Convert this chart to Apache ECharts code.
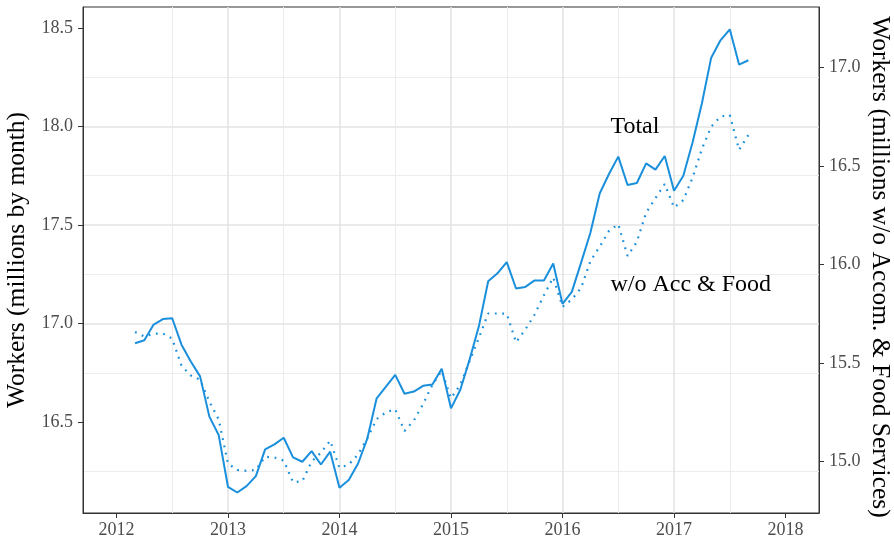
<!DOCTYPE html>
<html lang="en">
<head>
<meta charset="UTF-8">
<title>Workers</title>
<script src="https://cdn.jsdelivr.net/npm/echarts@6/dist/echarts.min.js"></script>
<style>
html, body { margin: 0; padding: 0; background: #fff; }
#chart { width: 894px; height: 545px; }
</style>
</head>
<body>
<div id="chart"></div>
<script>
// monthly series, first value is March 2012
var startYear = 2012, startMonth = 3;

// total workers, millions (left axis)
var total = [
    16.90, 16.915, 16.995, 17.023, 17.027, 16.893, 16.808, 16.732, 16.528, 16.435,
    16.172, 16.143, 16.175, 16.226, 16.362, 16.387, 16.421, 16.321, 16.299, 16.353, 16.285, 16.35,
    16.167, 16.206, 16.29, 16.418, 16.621, 16.68, 16.74, 16.644, 16.655, 16.684, 16.691, 16.771,
    16.570, 16.664, 16.817, 16.986, 17.215, 17.255, 17.312, 17.178, 17.186, 17.219, 17.219, 17.305,
    17.10, 17.161, 17.309, 17.461, 17.66, 17.759, 17.847, 17.703, 17.713, 17.813, 17.781, 17.85,
    17.674, 17.75, 17.92, 18.118, 18.349, 18.437, 18.493, 18.314, 18.336
];

// workers without accommodation & food services, millions (right axis)
var withoutAccFood = [
    15.657, 15.635, 15.649, 15.65, 15.624, 15.486, 15.437, 15.415, 15.304, 15.214,
    14.99, 14.957, 14.953, 14.957, 15.024, 15.021, 15.005, 14.895, 14.90, 15.00, 15.045, 15.106,
    14.968, 14.985, 15.036, 15.118, 15.216, 15.25, 15.265, 15.155, 15.208, 15.292, 15.39, 15.46,
    15.321, 15.389, 15.51, 15.627, 15.751, 15.751, 15.75, 15.605, 15.67, 15.746, 15.844, 15.934,
    15.785, 15.822, 15.881, 16.017, 16.09, 16.17, 16.204, 16.043, 16.115, 16.263, 16.336, 16.408,
    16.289, 16.326, 16.441, 16.586, 16.699, 16.75, 16.758, 16.581, 16.657
];

var yearTicks = [2012, 2013, 2014, 2015, 2016, 2017, 2018];
var leftTicks = [16.5, 17.0, 17.5, 18.0, 18.5];
var rightTicks = [15.0, 15.5, 16.0, 16.5, 17.0];

var blue = '#1a8fdc';
var font = 'Liberation Serif';

function toXY(values){
    return values.map(function(v, i){
        return [startYear + (startMonth - 1 + i) / 12, v];
    });
}

var tickLabel = {
    fontFamily: font,
    fontSize: 18,
    color: '#4d4d4d'
};
var majorGrid = { show: true, showMinLine: false, showMaxLine: false,
    lineStyle: { color: '#e3e3e3', width: 1.5 } };
var minorGrid = { show: true, lineStyle: { color: '#ececec', width: 1 } };

var option = {
    animation: false,
    grid: {
        left: 83,
        right: 75,
        top: 7,
        bottom: 32,
        outerBoundsMode: 'none',
        containLabel: false,
        show: true,
        borderColor: '#333',
        borderWidth: 1,
        backgroundColor: '#fff'
    },
    xAxis: {
        type: 'value',
        min: 2011.7,
        max: 2018.3,
        minInterval: 1,
        maxInterval: 1,
        axisLine: { show: true, lineStyle: { color: '#333', width: 1 } },
        axisTick: { show: true, length: 5, customValues: yearTicks, lineStyle: { color: '#333' } },
        axisLabel: Object.assign({ margin: 8, customValues: yearTicks,
            formatter: function(v){ return String(v); } }, tickLabel),
        splitLine: majorGrid,
        minorTick: { show: false, splitNumber: 2 },
        minorSplitLine: minorGrid
    },
    yAxis: [
        {
            type: 'value',
            position: 'left',
            min: 16.039,
            max: 18.606,
            minInterval: 0.5,
            maxInterval: 0.5,
            name: 'Workers (millions by month)',
            nameLocation: 'middle',
            nameMoveOverlap: false,
            nameGap: 53,
            nameTextStyle: { fontFamily: font, fontSize: 25.5, color: '#000' },
            axisLine: { show: true, lineStyle: { color: '#333', width: 1 } },
            axisTick: { show: true, length: 5, customValues: leftTicks, lineStyle: { color: '#333' } },
            axisLabel: Object.assign({ margin: 10, customValues: leftTicks,
                formatter: function(v){ return v.toFixed(1); } }, tickLabel),
            splitLine: majorGrid,
            minorTick: { show: false, splitNumber: 2 },
            minorSplitLine: minorGrid
        },
        {
            type: 'value',
            position: 'right',
            min: 14.739,
            max: 17.306,
            minInterval: 0.5,
            maxInterval: 0.5,
            name: 'Workers (millions w/o Accom. & Food Services)',
            nameLocation: 'middle',
            nameMoveOverlap: false,
            nameGap: 48,
            nameRotate: -90,
            nameTextStyle: { fontFamily: font, fontSize: 25.5, color: '#000', padding: [0, 0, 0, 14] },
            axisLine: { show: true, lineStyle: { color: '#333', width: 1 } },
            axisTick: { show: true, length: 5, customValues: rightTicks, lineStyle: { color: '#333' } },
            axisLabel: Object.assign({ margin: 10, customValues: rightTicks,
                formatter: function(v){ return v.toFixed(1); } }, tickLabel),
            splitLine: { show: false }
        }
    ],
    series: [
        {
            name: 'Total',
            type: 'line',
            yAxisIndex: 0,
            data: toXY(total),
            showSymbol: false,
            lineStyle: { color: blue, width: 2 },
            itemStyle: { color: blue },
            markPoint: {
                symbol: 'circle',
                symbolSize: 1,
                itemStyle: { color: 'rgba(0,0,0,0)' },
                label: { show: true, position: 'inside', align: 'left', verticalAlign: 'middle',
                    fontFamily: font, fontSize: 24, color: '#000', formatter: 'Total' },
                data: [{ coord: [2016.43, 18.0] }]
            }
        },
        {
            name: 'w/o Acc & Food',
            type: 'line',
            yAxisIndex: 1,
            data: toXY(withoutAccFood),
            showSymbol: false,
            lineStyle: { color: blue, width: 2.2, type: [1.8, 5.6] },
            itemStyle: { color: blue },
            markPoint: {
                symbol: 'circle',
                symbolSize: 1,
                itemStyle: { color: 'rgba(0,0,0,0)' },
                label: { show: true, position: 'inside', align: 'left', verticalAlign: 'middle',
                    fontFamily: font, fontSize: 24, color: '#000', formatter: 'w/o Acc & Food' },
                data: [{ coord: [2016.43, 15.895] }]
            }
        }
    ]
};

var chart = echarts.init(document.getElementById('chart'));
chart.setOption(option);
</script>
</body>
</html>
